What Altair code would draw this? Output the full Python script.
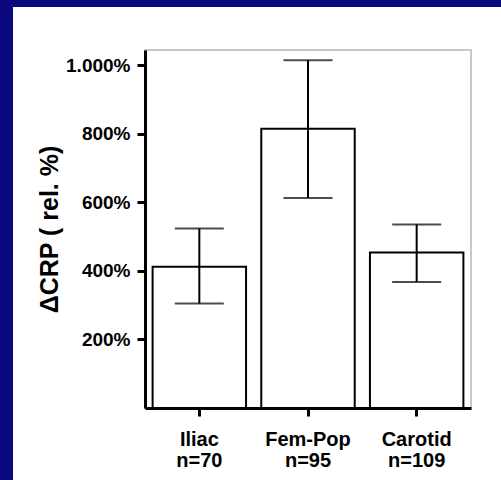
import altair as alt
import pandas as pd

categories = ["Iliac", "Fem-Pop", "Carotid"]
n_values = [70, 95, 109]
means = [412, 815, 454]
lows = [305, 613, 368]
highs = [524, 1015, 536]
y_ticks = [200, 400, 600, 800, 1000]

labels = [f"{c}|n={n}" for c, n in zip(categories, n_values)]
df = pd.DataFrame({"label": labels, "mean": means, "low": lows, "high": highs})

FONT = "Liberation Sans"
NAVY = "#0a0a7c"

x_enc = alt.X(
    "label:N",
    sort=labels,
    scale=alt.Scale(paddingInner=0.14, paddingOuter=0.07),
    axis=alt.Axis(
        title=None,
        labelAngle=0,
        labelExpr="split(datum.label, '|')",
        labelFont=FONT,
        labelFontSize=20,
        labelFontWeight="bold",
        labelColor="black",
        labelLineHeight=21,
        labelPadding=13,
        domainColor="black",
        domainWidth=3,
        tickColor="black",
        tickWidth=3,
        tickSize=8,
        zindex=1,
    ),
)

y_scale = alt.Scale(domain=[0, 1045], nice=False, zero=True)

left_strip = alt.Chart(df).mark_rect(color=NAVY).encode(
    x=alt.value(-160), x2=alt.value(-132), y=alt.value(-60), y2=alt.value(440)
)
top_strip = alt.Chart(df).mark_rect(color=NAVY).encode(
    x=alt.value(-160), x2=alt.value(380), y=alt.value(-60), y2=alt.value(-43)
)

frame = alt.Chart(df).mark_rect(
    fill="white", fillOpacity=0, stroke="#c8c8c8", strokeWidth=1.5
).encode(x=alt.value(0), x2=alt.value(326), y=alt.value(0), y2=alt.value(358))

bars = alt.Chart(df).mark_bar(fill="white", stroke="black", strokeWidth=2).encode(
    x=x_enc,
    y=alt.Y(
        "mean:Q",
        scale=y_scale,
        axis=alt.Axis(
            title="ΔCRP ( rel. %)",
            titleFont=FONT,
            titleFontSize=25,
            titleFontWeight="bold",
            titleColor="black",
            titleX=-96,
            titleY=179,
            titleAngle=270,
            titleAlign="center",
            titleBaseline="middle",
            values=y_ticks,
            labelExpr="datum.value == 1000 ? '1.000%' : datum.value + '%'",
            labelFont=FONT,
            labelFontSize=19,
            labelFontWeight="bold",
            labelColor="black",
            labelPadding=7,
            grid=False,
            domainColor="black",
            domainWidth=3,
            tickColor="black",
            tickWidth=3,
            tickSize=8,
            zindex=1,
        ),
    ),
)

rules = alt.Chart(df).mark_rule(color="black", strokeWidth=2).encode(
    x=alt.X("label:N", sort=labels),
    y=alt.Y("low:Q", scale=y_scale),
    y2="high:Q",
)

caps_hi = alt.Chart(df).mark_tick(color="black", size=49, thickness=2).encode(
    x=alt.X("label:N", sort=labels),
    y=alt.Y("high:Q", scale=y_scale),
)
caps_lo = alt.Chart(df).mark_tick(color="black", size=49, thickness=2).encode(
    x=alt.X("label:N", sort=labels),
    y=alt.Y("low:Q", scale=y_scale),
)

chart = (
    alt.layer(left_strip, top_strip, frame, bars, rules, caps_hi, caps_lo)
    .properties(
        width=326,
        height=358,
        padding={"left": 145, "top": 50, "right": 30, "bottom": 72},
        autosize=alt.AutoSizeParams(type="none"),
        background="white",
    )
    .configure_view(stroke=None)
)

chart.save("out.html", embed_options={"renderer": "svg", "actions": False})
